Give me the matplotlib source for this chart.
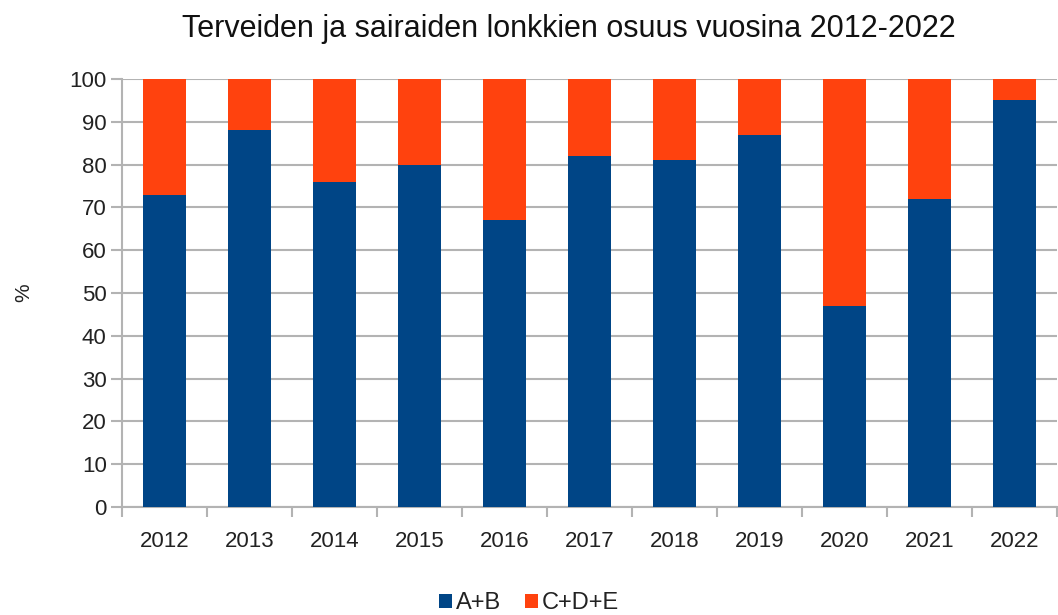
import matplotlib.pyplot as plt
import numpy as np

plt.rcParams['font.family'] = ['Liberation Sans', 'DejaVu Sans']

years = ['2012', '2013', '2014', '2015', '2016', '2017', '2018', '2019', '2020', '2021', '2022']
healthy = [73, 88, 76, 80, 67, 82, 81, 87, 47, 72, 95]   # A+B
sick = [27, 12, 24, 20, 33, 18, 19, 13, 53, 28, 5]       # C+D+E

fig = plt.figure(figsize=(10.58, 6.15), dpi=100)
ax = fig.add_axes([0.1153, 0.1756, 0.8838, 0.6959])

x = np.arange(len(years))
ax.bar(x, healthy, width=0.5, color='#004586', label='A+B', zorder=3)
ax.bar(x, sick, width=0.5, bottom=healthy, color='#ff420e', label='C+D+E', zorder=3)

ax.set_xlim(-0.5, len(years) - 0.5)
ax.set_ylim(0, 100)
ax.set_yticks(range(0, 101, 10))
ax.set_xticks(x)
ax.set_xticklabels(years)
ax.set_xticks(np.arange(-0.5, len(years), 1), minor=True)
ax.tick_params(axis='x', which='major', length=0, pad=17, labelsize=16, labelcolor='#222222')
ax.tick_params(axis='x', which='minor', length=7, width=1.5, color='#b3b3b3')
ax.tick_params(axis='y', length=8, width=1.5, color='#b3b3b3', pad=3, labelsize=16,
               labelcolor='#222222')

ax.grid(axis='y', color='#b3b3b3', linewidth=1.5, zorder=0)
for s in ['top', 'right']:
    ax.spines[s].set_visible(False)
for s in ['left', 'bottom']:
    ax.spines[s].set_color('#b3b3b3')
    ax.spines[s].set_linewidth(1.5)

ax.set_ylabel('%', fontsize=15, labelpad=26, color='#222222')
fig.suptitle('Terveiden ja sairaiden lonkkien osuus vuosina 2012-2022',
             x=0.538, y=0.977, fontsize=22, color='#111111')

fig.legend(loc='lower center', bbox_to_anchor=(0.5, -0.033), ncol=2, frameon=False,
           fontsize=17, handlelength=0.55, handleheight=0.55, handletextpad=0.15,
           columnspacing=1.0, labelcolor='#222222')

fig.savefig('out.png', dpi=100)
